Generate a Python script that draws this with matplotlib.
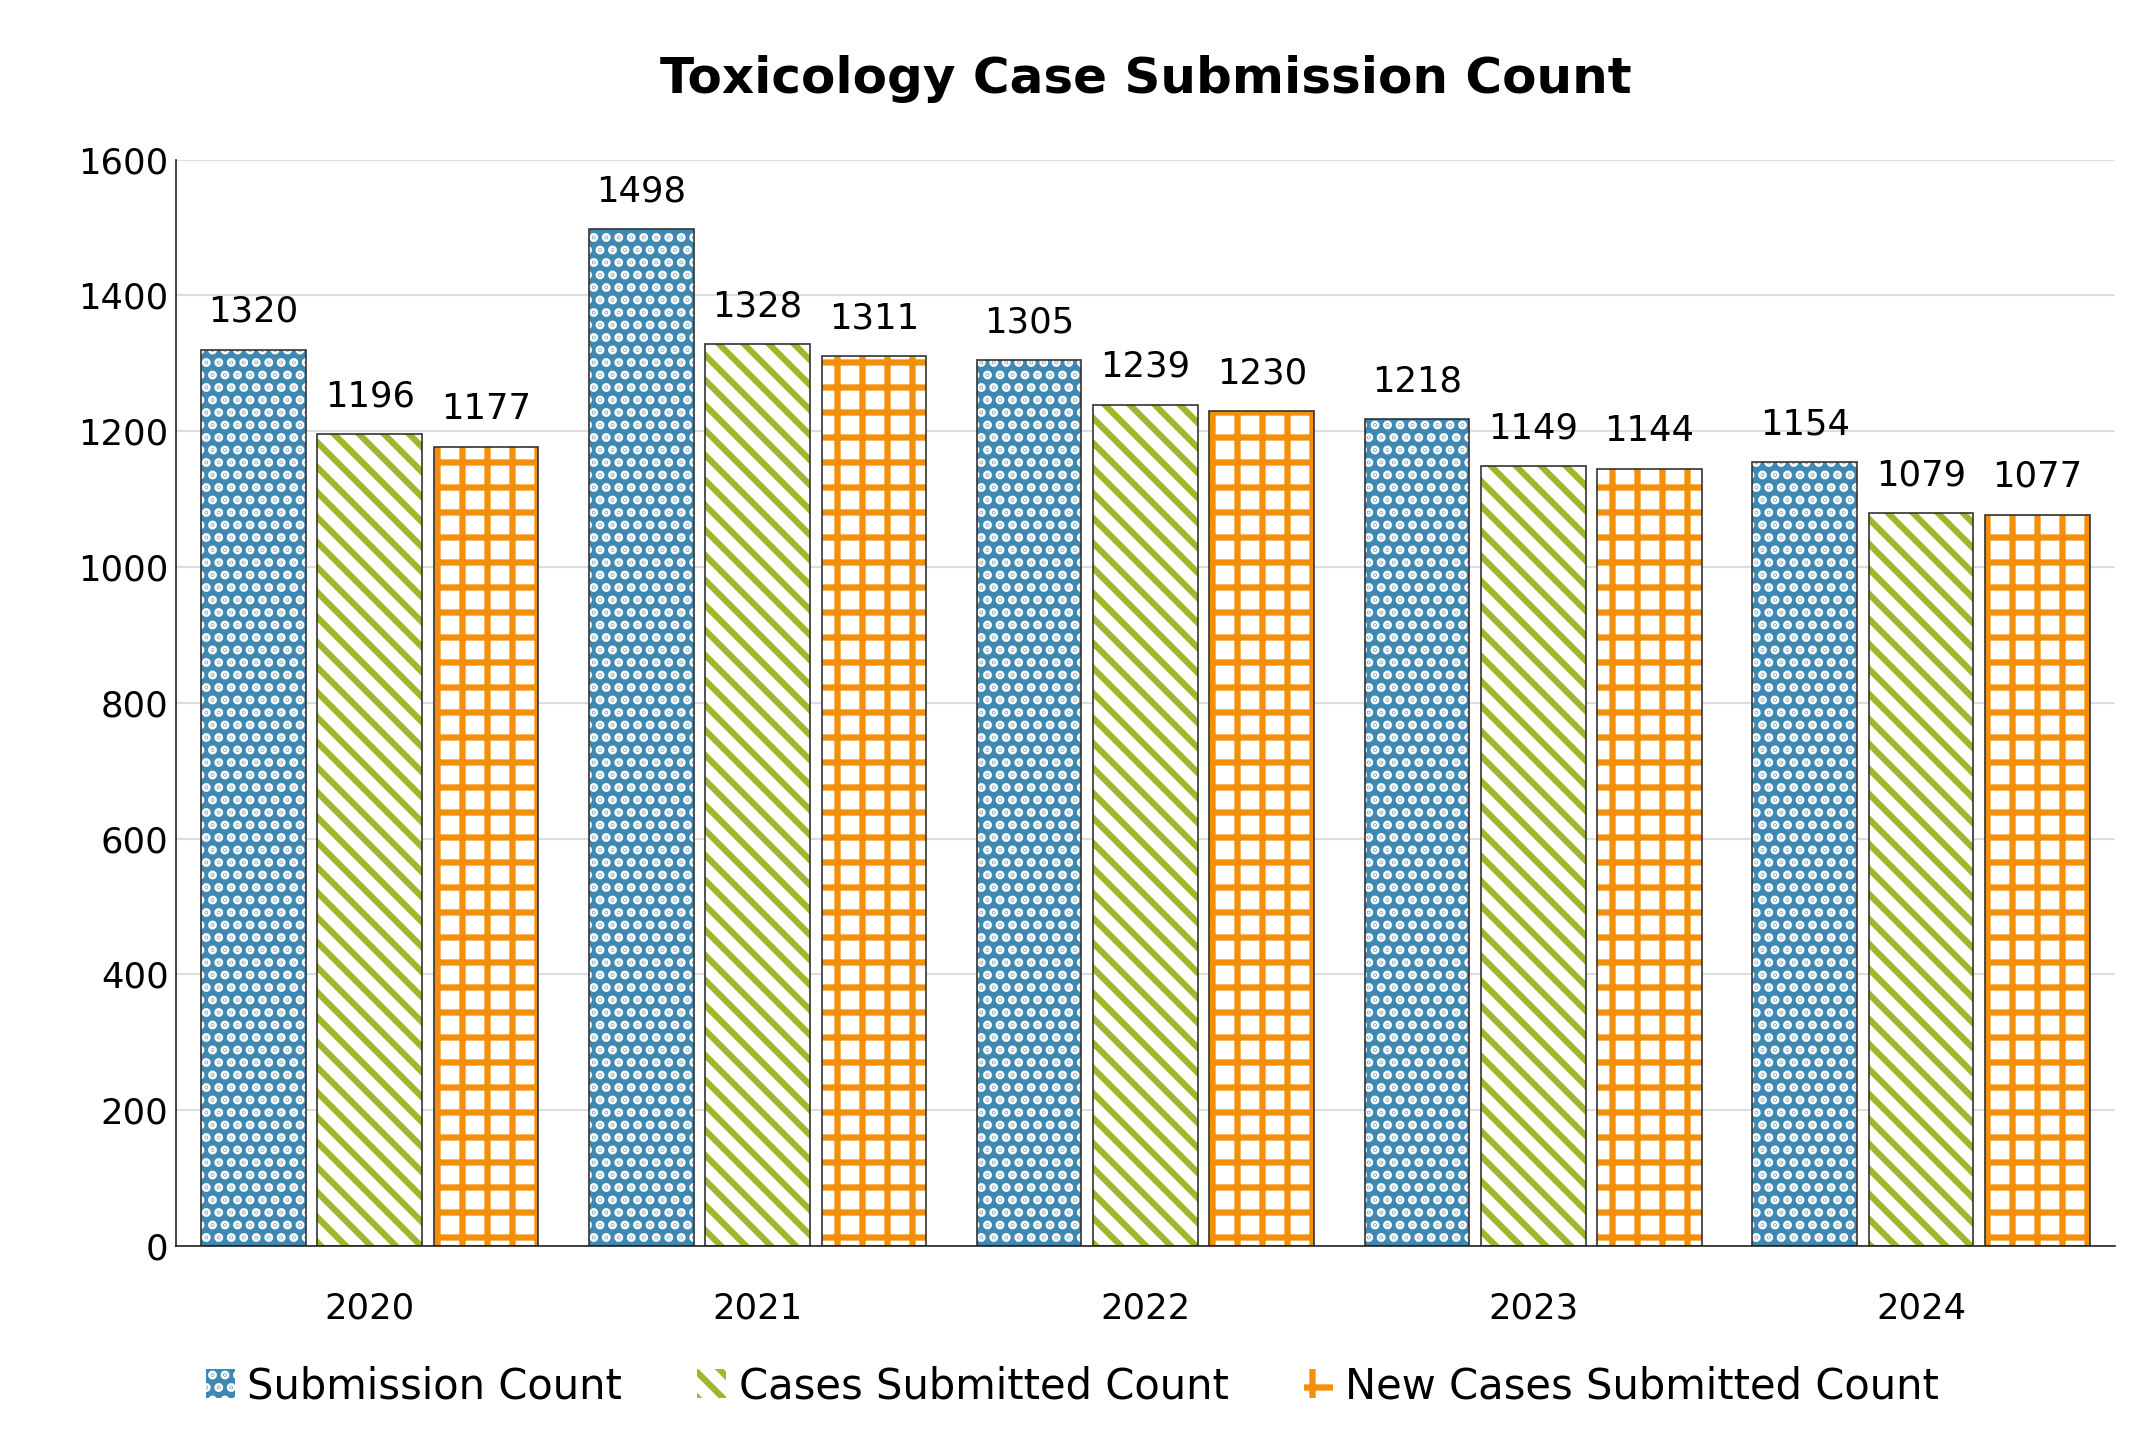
import matplotlib.pyplot as plt
import numpy as np

years = ['2020', '2021', '2022', '2023', '2024']
submission = [1320, 1498, 1305, 1218, 1154]
cases = [1196, 1328, 1239, 1149, 1079]
new_cases = [1177, 1311, 1230, 1144, 1077]

plt.rcParams['font.family'] = 'DejaVu Sans'
plt.rcParams['hatch.linewidth'] = 3

fig = plt.figure(figsize=(14.3, 9.68), dpi=150)
ax = fig.add_axes([0.082, 0.142, 0.904, 0.748])

x = np.arange(len(years))
width = 0.27
gap = 0.3
series = [
    (submission, 'Submission Count', '#3f88b2', 'white', '..'),
    (cases, 'Cases Submitted Count', 'white', '#a3b52a', '\\\\'),
    (new_cases, 'New Cases Submitted Count', 'white', '#f38f09', '+'),
]
handles = []
for i, (vals, label, face, hcol, hatch) in enumerate(series):
    pos = x + (i - 1) * gap
    b = ax.bar(pos, vals, width, color=face, edgecolor=hcol, hatch=hatch, linewidth=0, label=label)
    ax.bar(pos, vals, width, fill=False, edgecolor='#333333', linewidth=0.8)
    handles.append(b)
    for p, v in zip(pos, vals):
        ax.annotate(str(v), xy=(p, v), xytext=(0, 10), textcoords='offset points',
                    ha='center', va='bottom', fontsize=17)

ax.set_title('Toxicology Case Submission Count', fontsize=24, fontweight='bold', pad=32)
ax.set_ylim(0, 1600)
ax.set_yticks(range(0, 1601, 200))
ax.set_xticks(x)
ax.set_xticklabels(years)
ax.set_xlim(-0.5, 4.5)
ax.tick_params(axis='both', labelsize=17, length=0)
ax.tick_params(axis='x', pad=22)
ax.grid(axis='y', color='#dddddd', linewidth=1)
ax.set_axisbelow(True)
for s in ['top', 'right']:
    ax.spines[s].set_visible(False)
ax.spines['left'].set_color('#222222')
ax.spines['bottom'].set_color('#222222')

fig.legend(handles=handles, loc='lower center', bbox_to_anchor=(0.5, 0.005), ncol=3,
           frameon=False, fontsize=20, handlelength=0.7, handleheight=0.7,
           handletextpad=0.3, columnspacing=1.8)

fig.savefig('out.png', dpi=150)
